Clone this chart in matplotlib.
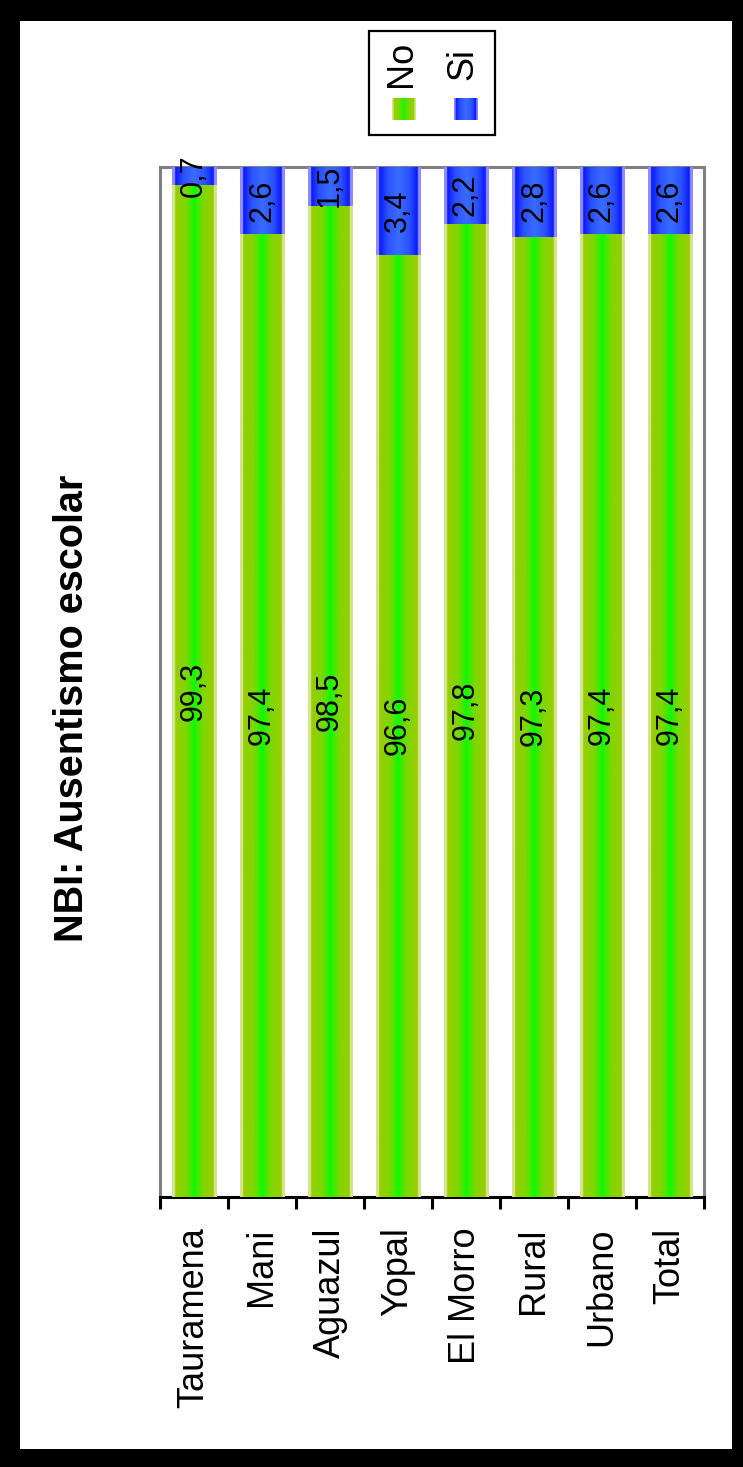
import numpy as np
import matplotlib
matplotlib.use("Agg")
import matplotlib.pyplot as plt
from matplotlib.colors import LinearSegmentedColormap
from matplotlib.patches import Rectangle

# datos del grafico (porcentajes)
categorias = ["Tauramena", "Mani", "Aguazul", "Yopal", "El Morro", "Rural", "Urbano", "Total"]
valores_no = [99.3, 97.4, 98.5, 96.6, 97.8, 97.3, 97.4, 97.4]
valores_si = [0.7, 2.6, 1.5, 3.4, 2.2, 2.8, 2.6, 2.6]
series = ["No", "Si"]
titulo = "NBI: Ausentismo escolar"

W, H = 743, 1467
plt.rcParams['font.family'] = ['Liberation Sans', 'DejaVu Sans']

pale_g = '#d4e68c'
cmap_verde = LinearSegmentedColormap.from_list("verde", [
    (0, pale_g), (0.065, pale_g), (0.07, '#9acd00'), (0.3, '#80d600'),
    (0.45, '#33ee00'), (0.5, '#00ff00'), (0.55, '#33ee00'), (0.7, '#80d600'),
    (0.93, '#9acd00'), (0.935, pale_g), (1, pale_g)])
pale_b = '#8c8cff'
cmap_azul = LinearSegmentedColormap.from_list("azul", [
    (0, pale_b), (0.065, pale_b), (0.07, '#0a14ff'), (0.25, '#2a50ff'),
    (0.5, '#3a6cff'), (0.75, '#2a50ff'), (0.93, '#0a14ff'), (0.935, pale_b), (1, pale_b)])

grad = np.linspace(0, 1, 128).reshape(1, -1)


def pintar_gradiente(ax, rect, cmap):
    # la imagen cubre la barra; el recorte lo hace el propio eje
    x, y = rect.get_x(), rect.get_y()
    w, h = rect.get_width(), rect.get_height()
    ax.imshow(grad, cmap=cmap, aspect='auto', interpolation='bilinear',
              extent=(x, x + w, y, y + h), zorder=3)


fig = plt.figure(figsize=(W / 100, H / 100), dpi=100)
fig.patch.set_facecolor('black')
# marco blanco interior (borde negro grueso)
fig.patches.append(Rectangle((20 / W, 1 - 1449 / H), (732 - 20) / W, (1449 - 21) / H,
                             transform=fig.transFigure, facecolor='white', edgecolor='none', zorder=-2))

ax = fig.add_axes([160 / W, 1 - 1197 / H, 544 / W, 1030 / H])
ax.set_facecolor('white')

x = np.arange(len(categorias))
ancho = 0.65
barras_no = ax.bar(x, valores_no, ancho, color=pale_g, zorder=2)
barras_si = ax.bar(x, valores_si, ancho, bottom=valores_no, color=pale_b, zorder=2)
for r in barras_no:
    pintar_gradiente(ax, r, cmap_verde)
for r in barras_si:
    pintar_gradiente(ax, r, cmap_azul)

ax.set_xlim(-0.5, len(categorias) - 0.5)
ax.set_ylim(60, 100)
ymin = ax.get_ylim()[0]

for i in range(len(categorias)):
    ax.text(x[i], (ymin + valores_no[i]) / 2, f"{valores_no[i]:.1f}".replace('.', ','),
            rotation=90, ha='center', va='center', fontsize=22, zorder=5)
    ax.text(x[i], valores_no[i] + valores_si[i] / 2, f"{valores_si[i]:.1f}".replace('.', ','),
            rotation=90, ha='center', va='center', fontsize=22, zorder=5, clip_on=False)

for s in ['left', 'top', 'right']:
    ax.spines[s].set_color('#808080')
    ax.spines[s].set_linewidth(2.2)
ax.spines['bottom'].set_color('black')
ax.spines['bottom'].set_linewidth(2.2)

ax.set_yticks([])
ax.set_xticks(x)
ax.set_xticklabels(categorias, rotation=90, fontsize=26)
ax.tick_params(axis='x', which='major', length=0, pad=22)
ax.set_xticks(np.arange(-0.5, len(categorias)), minor=True)
ax.tick_params(axis='x', which='minor', length=8.6, width=2.2, color='black')

fig.text(72 / W, 1 - 708 / H, titulo, rotation=90, ha='center', va='center',
         fontsize=28.5, fontweight='bold')

# leyenda dibujada a mano (rotada)
fig.patches.append(Rectangle((369 / W, 1 - 135 / H), 126 / W, 104 / H, transform=fig.transFigure,
                             facecolor='white', edgecolor='black', linewidth=1.6, zorder=-1))
for nombre, cx, cmap in zip(series, [401, 463], [cmap_verde, cmap_azul]):
    fig.text(cx / W, 1 - 64 / H, nombre, rotation=90, ha='center', va='center', fontsize=26, zorder=6)
    lax = fig.add_axes([(cx - 9) / W, 1 - 120 / H, 24 / W, 22 / H])
    lax.imshow(grad, cmap=cmap, aspect='auto', interpolation='bilinear')
    lax.axis('off')

fig.savefig("out.png", dpi=100, facecolor=fig.get_facecolor())
